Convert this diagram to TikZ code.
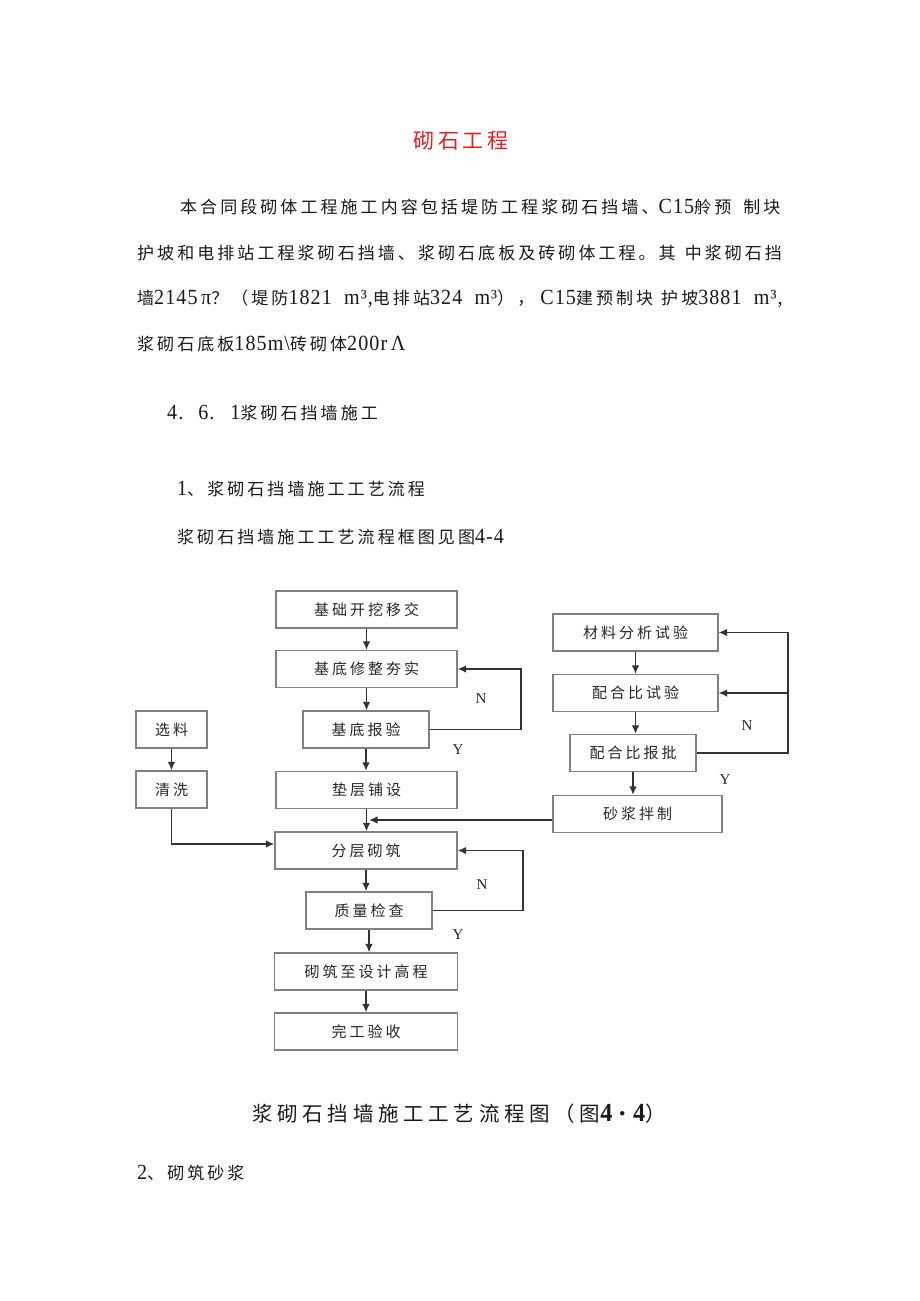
\documentclass[tikz,border=0pt]{standalone}
\usepackage{fontspec}
\setmainfont{Liberation Serif}
\newfontfamily\cjk[LetterSpace=18]{Noto Sans CJK SC}
\newfontfamily\cjkbox[LetterSpace=20]{Noto Sans CJK SC}
\newfontfamily\cjktitle[LetterSpace=18]{Noto Sans CJK SC}
\newfontfamily\cjkcap[LetterSpace=23]{Noto Sans CJK SC}
\newfontfamily\latn[Scale=1.27,FakeStretch=0.93,LetterSpace=5]{Liberation Serif}
\newcommand\lt[1]{{\latn #1}}
\usetikzlibrary{arrows.meta}
\definecolor{titlered}{RGB}{222,32,32}

\begin{document}
\begin{tikzpicture}[x=1pt,y=-1pt,
  box/.style={draw=black!50,line width=1.2pt,inner sep=0pt,minimum height=37pt,
    font=\cjkbox\fontsize{15}{18}\selectfont,text=black!85},
  arr/.style={-{Latex[length=8.5pt,width=7.5pt]},line width=1.4pt,black!80},
  yn/.style={font=\fontsize{15}{18}\selectfont,text=black!85},
  para/.style={anchor=base west,inner sep=0pt,text=black!90,
    font=\cjk\fontsize{17}{20}\selectfont}]
  \useasboundingbox (0,0) rectangle (920,1301);

  % heading and text above the chart
  \node[anchor=base,inner sep=0pt,text=titlered,
    font=\cjktitle\fontsize{21}{24}\selectfont] (title) at (461,148) {砌石工程};
  \node[para] (p1) at (180,213) {本合同段砌体工程施工内容包括堤防工程浆砌石挡墙、\lt{C15}舲预\hspace{12pt}制块};
  \node[para] (p2) at (137,259) {护坡和电排站工程浆砌石挡墙、浆砌石底板及砖砌体工程。其\hspace{9pt}中浆砌石挡};
  \node[para] (p3) at (137,304) {墙\lt{2145\,π}？（堤防\lt{1821\ \ m³,}电排站\lt{324\ \ m³}），\lt{\ C15}建预制块\hspace{8pt}护坡\lt{3881\ \ m³,}};
  \node[para] (p4) at (137,350) {浆砌石底板\lt{185m\textbackslash}砖砌体\lt{200r\,Λ}};
  \node[para] (h1) at (167,419) {\lt{4.}\hspace{15pt}\lt{6.}\hspace{16pt}\lt{1}浆砌石挡墙施工};
  \node[para] (h2) at (177,495) {\lt{1}、浆砌石挡墙施工工艺流程};
  \node[para] (h3) at (177,543) {浆砌石挡墙施工工艺流程框图见图\lt{4-4}};

  % main column
  \node[box,minimum width=181pt] (jc) at (366.5,609.5) {基础开挖移交};
  \node[box,minimum width=181pt] (xz) at (366.5,669) {基底修整夯实};
  \node[box,minimum width=126pt] (by) at (366,729.5) {基底报验};
  \node[box,minimum width=181pt] (dc) at (366.5,790) {垫层铺设};
  \node[box,minimum width=182pt] (fc) at (366,850.5) {分层砌筑};
  \node[box,minimum width=126pt] (zl) at (369,910.5) {质量检查};
  \node[box,minimum width=183pt] (gc) at (366,971.5) {砌筑至设计高程};
  \node[box,minimum width=183pt] (wg) at (366,1031.5) {完工验收};

  % stone column
  \node[box,minimum width=71pt] (xl) at (171.5,729.5) {选料};
  \node[box,minimum width=71pt] (qx) at (171.5,789.5) {清洗};

  % mortar column
  \node[box,minimum width=165pt] (cl) at (635.5,632.5) {材料分析试验};
  \node[box,minimum width=165pt] (ph) at (635.5,693) {配合比试验};
  \node[box,minimum width=126pt] (pb) at (633,753) {配合比报批};
  \node[box,minimum width=169pt] (sj) at (637.5,814) {砂浆拌制};

  \coordinate (rA) at (521,0);
  \coordinate (rB) at (523,0);
  \coordinate (rC) at (788,0);
  \coordinate (jn) at (369,820);

  % arrows
  \draw[arr] (jc.south) -- (xz.north);
  \draw[arr] (xz.south) -- (xz.south |- by.north);
  \draw[arr] (by.south) -- (by.south |- dc.north);
  \draw[arr] (dc.south) -- (dc.south |- fc.north);
  \draw[arr] (fc.south) -- (fc.south |- zl.north);
  \draw[arr] (zl.south) -- (zl.south |- gc.north);
  \draw[arr] (gc.south) -- (wg.north);
  \draw[arr] (by.east) -- (by.east -| rA) |- (xz.east);
  \draw[arr] (zl.east) -- (zl.east -| rB) |- (fc.east);
  \draw[arr] (xl) -- (qx);
  \draw[arr] (qx.south) |- ([yshift=6.5pt]fc.west);
  \draw[arr] (cl.south) -- (cl.south |- ph.north);
  \draw[arr] (ph.south) -- (ph.south |- pb.north);
  \draw[arr] (pb.south) -- (pb.south |- sj.north);
  \draw[arr] (pb.east) -- (pb.east -| rC) |- (cl.east);
  \draw[arr] (ph.east -| rC) -- (ph.east);
  \draw[arr] (sj.west |- jn) -- (jn);

  % check results
  \node[yn] (n1) at (481,699) {N};
  \node[yn] (y1) at (458,750) {Y};
  \node[yn] (n2) at (482,885) {N};
  \node[yn] (y2) at (458,935) {Y};
  \node[yn] (n3) at (747,726) {N};
  \node[yn] (y3) at (725,780) {Y};

  % caption and next heading
  \node[para,font=\cjkcap\fontsize{20.5}{24}\selectfont] (cap) at (252,1121)
    {浆砌石挡墙施工工艺流程图（图\lt{\bfseries 4}・\lt{\bfseries 4}）};
  \node[para] (h4) at (137,1179) {\lt{2}、砌筑砂浆};
\end{tikzpicture}
\end{document}
